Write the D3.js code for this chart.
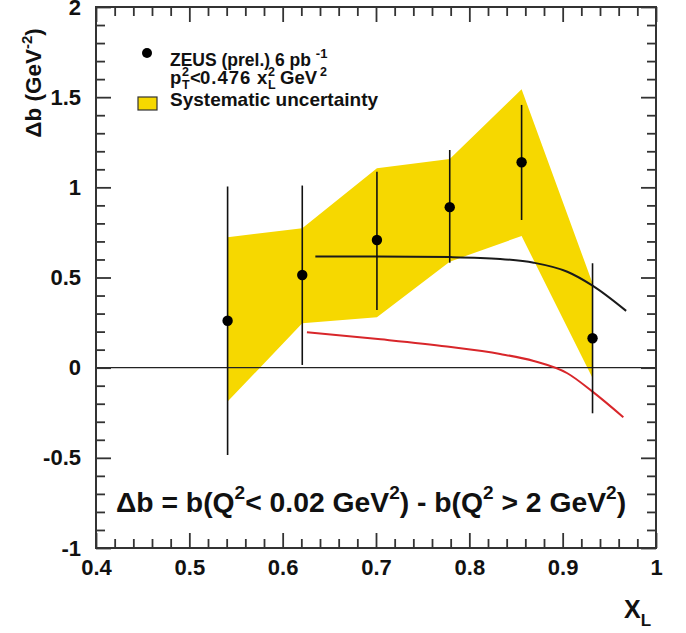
<!DOCTYPE html>
<html><head><meta charset="utf-8">
<script src="https://cdn.jsdelivr.net/npm/d3@7"></script>
<style>
html,body{margin:0;padding:0;background:#fff;}
text{font-family:"Liberation Sans",Arial,sans-serif;font-weight:bold;fill:#111;}
</style></head>
<body><svg id="c" width="686" height="633"></svg>
<script>
// ---- data ----
const xL        = [0.541, 0.621, 0.701, 0.779, 0.856, 0.932];
const deltaB    = [0.260, 0.514, 0.708, 0.890, 1.139, 0.163];
const errTop    = [1.004, 1.010, 1.087, 1.207, 1.457, 0.579];
const errBottom = [-0.484, 0.015, 0.320, 0.582, 0.819, -0.253];
const sysUpper  = [0.723, 0.773, 1.106, 1.157, 1.544, 0.468];
const sysLower  = [-0.188, 0.246, 0.280, 0.588, 0.730, -0.057];
const blackX = [0.635, 0.700, 0.780, 0.833, 0.869, 0.905, 0.932, 0.968];
const blackY = [0.617, 0.617, 0.613, 0.603, 0.582, 0.532, 0.455, 0.315];
const redX   = [0.626, 0.705, 0.776, 0.833, 0.869, 0.905, 0.932, 0.965];
const redY   = [0.196, 0.157, 0.117, 0.076, 0.037, -0.031, -0.133, -0.275];
const xTicks = [0.4, 0.5, 0.6, 0.7, 0.8, 0.9, 1.0];
const xTickLabels = ["0.4","0.5","0.6","0.7","0.8","0.9","1"];
const yTicks = [-1, -0.5, 0, 0.5, 1, 1.5, 2];
const yTickLabels = ["-1","-0.5","0","0.5","1","1.5","2"];

const L = 96, R = 656, T = 7, B = 548;
const svg = d3.select("#c");
const x = d3.scaleLinear().domain([0.4, 1.0]).range([L, R]);
const y = d3.scaleLinear().domain([-1, 2]).range([B, T]);

// band
const bandPts = xL.map((d,i)=>[d, sysUpper[i]]).concat(xL.map((d,i)=>[d, sysLower[i]]).reverse());
svg.append("path")
  .attr("d", d3.line().x(d=>x(d[0])).y(d=>y(d[1]))(bandPts) + "Z")
  .attr("fill", "#f6d800").attr("stroke", "none");

// zero line
svg.append("line").attr("x1", L).attr("x2", R).attr("y1", y(0)).attr("y2", y(0))
  .attr("stroke", "#222").attr("stroke-width", 1.2);

// curves
const curve = d3.line().x(d=>x(d[0])).y(d=>y(d[1])).curve(d3.curveMonotoneX);
svg.append("path").attr("d", curve(blackX.map((d,i)=>[d, blackY[i]])))
  .attr("fill","none").attr("stroke","#1a1a1a").attr("stroke-width",2);
svg.append("path").attr("d", curve(redX.map((d,i)=>[d, redY[i]])))
  .attr("fill","none").attr("stroke","#d8262a").attr("stroke-width",2);

// error bars and points
svg.selectAll(".err").data(xL).enter().append("line")
  .attr("x1", d=>x(d)).attr("x2", d=>x(d))
  .attr("y1", (d,i)=>y(errTop[i])).attr("y2", (d,i)=>y(errBottom[i]))
  .attr("stroke","#111").attr("stroke-width",1.6);
svg.selectAll(".pt").data(xL).enter().append("circle")
  .attr("cx", d=>x(d)).attr("cy", (d,i)=>y(deltaB[i])).attr("r", 5.2).attr("fill","#000");

// axes (inward ticks on all sides)
const fmtX = d => xTickLabels[xTicks.findIndex(t=>Math.abs(t-d)<1e-9)];
const fmtY = d => yTickLabels[yTicks.findIndex(t=>Math.abs(t-d)<1e-9)];
const xMinor = d3.range(0.42, 1.0, 0.02).filter(v => Math.abs(v*10 - Math.round(v*10)) > 1e-6);
const yMinor = d3.range(-0.9, 2.0, 0.1).filter(v => Math.abs(v*2 - Math.round(v*2)) > 1e-6);

function styleAxis(g){
  g.select(".domain").remove();
  g.selectAll("line").attr("stroke","#333").attr("stroke-width",1.8);
  g.selectAll("text").style("font-size","22px").attr("fill","#111");
}
svg.append("g").attr("transform",`translate(0,${B})`)
  .call(d3.axisBottom(x).tickValues(xTicks).tickSize(-15).tickPadding(11).tickFormat(fmtX)).call(styleAxis);
svg.append("g").attr("transform",`translate(0,${B})`)
  .call(d3.axisBottom(x).tickValues(xMinor).tickSize(-9).tickFormat("")).call(styleAxis);
svg.append("g").attr("transform",`translate(0,${T})`)
  .call(d3.axisTop(x).tickValues(xTicks).tickSize(-15).tickFormat("")).call(styleAxis);
svg.append("g").attr("transform",`translate(0,${T})`)
  .call(d3.axisTop(x).tickValues(xMinor).tickSize(-9).tickFormat("")).call(styleAxis);
svg.append("g").attr("transform",`translate(${L},0)`)
  .call(d3.axisLeft(y).tickValues(yTicks).tickSize(-15).tickPadding(15).tickFormat(fmtY)).call(styleAxis);
svg.append("g").attr("transform",`translate(${L},0)`)
  .call(d3.axisLeft(y).tickValues(yMinor).tickSize(-9).tickFormat("")).call(styleAxis);
svg.append("g").attr("transform",`translate(${R},0)`)
  .call(d3.axisRight(y).tickValues(yTicks).tickSize(-15).tickFormat("")).call(styleAxis);
svg.append("g").attr("transform",`translate(${R},0)`)
  .call(d3.axisRight(y).tickValues(yMinor).tickSize(-9).tickFormat("")).call(styleAxis);

// frame
svg.append("rect").attr("x",L).attr("y",T).attr("width",R-L).attr("height",B-T)
  .attr("fill","none").attr("stroke","#333").attr("stroke-width",2);

// axis titles
const yt = svg.append("text").attr("transform","translate(41,83) rotate(-90)")
  .attr("text-anchor","middle").style("font-size","22.5px");
yt.append("tspan").text("Δb (GeV");
yt.append("tspan").text("-2").style("font-size","15px").attr("dy",-9);
yt.append("tspan").text(")").attr("dy",9);

const xt = svg.append("text").attr("x",624).attr("y",618).style("font-size","25px");
xt.append("tspan").text("X");
xt.append("tspan").text("L").style("font-size","17px").attr("dy",8);

// legend
svg.append("circle").attr("cx",147).attr("cy",53).attr("r",5).attr("fill","#000");
const l1 = svg.append("text").attr("x",170).attr("y",66).style("font-size","17.5px");
l1.append("tspan").text("ZEUS (prel.) 6 pb ");
l1.append("tspan").text("-1").style("font-size","13px").attr("dy",-8);

const l2 = svg.append("text").attr("y",84).style("font-size","18.5px");
l2.append("tspan").attr("x",170).text("p");
l2.append("tspan").attr("x",182).attr("y",76).style("font-size","12.5px").text("2");
l2.append("tspan").attr("x",182).attr("y",89).style("font-size","12.5px").text("T");
l2.append("tspan").attr("x",190).attr("y",84).text("<");
l2.append("tspan").attr("x",200).attr("y",84).style("letter-spacing","1px").text("0.476");
l2.append("tspan").attr("x",257).attr("y",84).text("x");
l2.append("tspan").attr("x",268).attr("y",76).style("font-size","12.5px").text("2");
l2.append("tspan").attr("x",268).attr("y",89).style("font-size","12.5px").text("L");
l2.append("tspan").attr("x",280).attr("y",84).text("GeV");
l2.append("tspan").attr("x",320).attr("y",76).style("font-size","12.5px").text("2");

svg.append("rect").attr("x",138).attr("y",97).attr("width",19).attr("height",13)
  .attr("fill","#f6d800").attr("stroke","#333").attr("stroke-width",1.2);
svg.append("text").attr("x",170).attr("y",106).style("font-size","19px").text("Systematic uncertainty");

// formula
const f = svg.append("text").attr("x",116).attr("y",512).style("font-size","28.3px");
f.append("tspan").text("Δb = b(Q");
f.append("tspan").text("2").style("font-size","19px").attr("dy",-13);
f.append("tspan").text("< 0.02 GeV").attr("dy",13);
f.append("tspan").text("2").style("font-size","19px").attr("dy",-13);
f.append("tspan").text(") - b(Q").attr("dy",13);
f.append("tspan").text("2").style("font-size","19px").attr("dy",-13);
f.append("tspan").text(" > 2 GeV").attr("dy",13);
f.append("tspan").text("2").style("font-size","19px").attr("dy",-13);
f.append("tspan").text(")").attr("dy",13);
</script></body></html>
